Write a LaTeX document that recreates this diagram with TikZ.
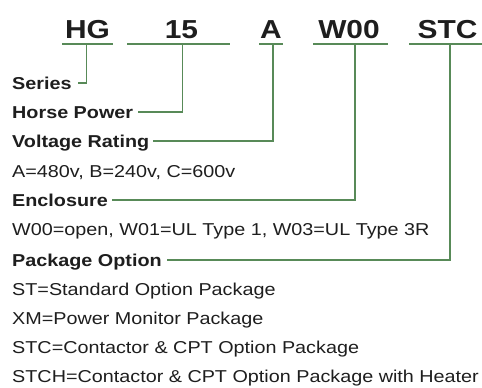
\documentclass[tikz,border=0pt]{standalone}
\usepackage{fontspec}
\setmainfont[FakeStretch=1.15]{Liberation Sans}
\definecolor{lg}{RGB}{88,138,88}
\definecolor{tx}{RGB}{30,30,30}
\begin{document}
\begin{tikzpicture}[x=1pt,y=-1pt,
  code/.style={font=\fontsize{26}{30}\selectfont\bfseries, text=tx, inner sep=0pt, anchor=base},
  lab/.style={font=\fontsize{17.2}{20}\selectfont\bfseries, text=tx, inner sep=0pt, anchor=west, text height=12pt, text depth=0pt},
  desc/.style={font=\fontsize{17.2}{20}\selectfont, text=tx, inner sep=0pt, anchor=west, text height=12pt, text depth=0pt},
  uline/.style={draw=lg, line width=1.5pt},
  conn/.style={draw=lg, line width=1.5pt}]
\useasboundingbox[fill=white] (0,0) rectangle (482,388);

% code letters
\node[code] (hg)  at (87.5,38) {HG};
\node[code] (hp)  at (181.5,38) {15};
\node[code] (vr)  at (271,38) {A};
\node[code] (en)  at (349,38) {W00};
\node[code] (po)  at (447.5,38) {STC};

% underline coordinates
\coordinate (hgL) at (62,44);  \coordinate (hgR) at (113,44);
\coordinate (hpL) at (127,44); \coordinate (hpR) at (230,44);
\coordinate (vrL) at (259,44); \coordinate (vrR) at (283,44);
\coordinate (enL) at (313,44); \coordinate (enR) at (388,44);
\coordinate (poL) at (409,44); \coordinate (poR) at (482,44);
\coordinate (hgU) at (86.7,44);
\coordinate (hpU) at (182.7,44);
\coordinate (vrU) at (273,44);
\coordinate (enU) at (355,44);
\coordinate (poU) at (450,44);

\draw[uline] (hgL) -- (hgR);
\draw[uline] (hpL) -- (hpR);
\draw[uline] (vrL) -- (vrR);
\draw[uline] (enL) -- (enR);
\draw[uline] (poL) -- (poR);

% labels
\node[lab]  (series)  at (12,83)  {Series};
\node[lab]  (horse)   at (12,112) {Horse Power};
\node[lab]  (volt)    at (12,141) {Voltage Rating};
\node[desc] (voltd)   at (12,171) {A=480v, B=240v, C=600v};
\node[lab]  (encl)    at (12,200) {Enclosure};
\node[desc] (encld)   at (12,229) {W00=open, W01=UL Type 1, W03=UL Type 3R};
\node[lab]  (pack)    at (12,260) {Package Option};
\node[desc] (packa)   at (12,289) {ST=Standard Option Package};
\node[desc] (packb)   at (12,318) {XM=Power Monitor Package};
\node[desc] (packc)   at (12,347) {STC=Contactor \& CPT Option Package};
\node[desc] (packd)   at (12,376) {STCH=Contactor \& CPT Option Package with Heater};

% connectors
\draw[conn] (hgU) |- ([xshift=6pt]series.east);
\draw[conn] (hpU) |- ([xshift=5pt]horse.east);
\draw[conn] (vrU) |- ([xshift=4pt]volt.east);
\draw[conn] (enU) |- ([xshift=4pt]encl.east);
\draw[conn] (poU) |- ([xshift=5pt]pack.east);
\end{tikzpicture}
\end{document}
